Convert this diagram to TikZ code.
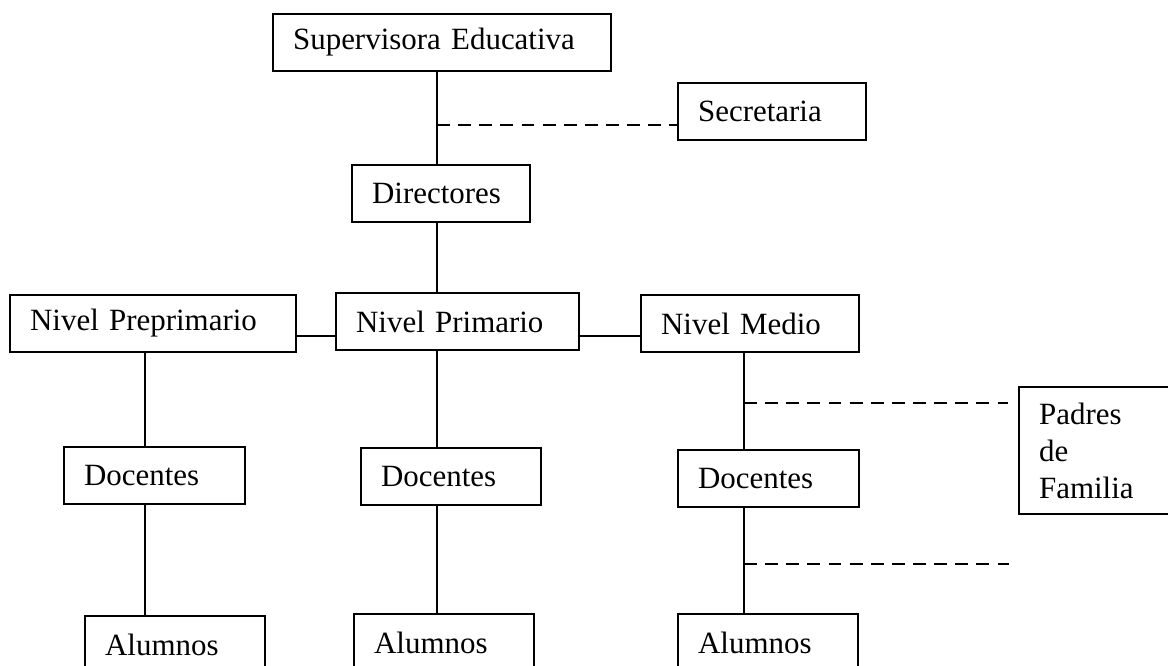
\documentclass[tikz,border=0pt]{standalone}
\usepackage{fontspec}
\setmainfont{Liberation Serif}
\begin{document}
\begin{tikzpicture}[x=0.388pt,y=-0.388pt,font=\fontsize{12}{14.4}\selectfont,line width=0.8pt,
  caja/.style={draw,anchor=north west,align=left,inner xsep=7.8pt,inner ysep=0pt,minimum height=22.1pt,text width=#1},
  punteada/.style={line width=0.9pt,dash pattern=on 5pt off 3.2pt}]
\useasboundingbox (0,0) rectangle (1168,666);
\node[caja=115.5pt](sup) at (272,13){Supervisora Educativa};
\node[caja=57.3pt](sec) at (677,82){Secretaria};
\node[caja=53.5pt](dir) at (351,164){Directores};
\node[caja=95.4pt](pre) at (9,294){Nivel Preprimario};
\node[caja=78.7pt](pri) at (335,292){Nivel Primario};
\node[caja=69pt](med) at (640,294){Nivel Medio};
\node[caja=46.5pt,minimum height=49.3pt](pad) at (1018,386){Padres\\de\\Familia};
\node[caja=54.6pt](doc1) at (63,446){Docentes};
\node[caja=54.2pt](doc2) at (360,447){Docentes};
\node[caja=54.6pt](doc3) at (677,449){Docentes};
\node[caja=54.2pt](alu1) at (84,615){Alumnos};
\node[caja=54.2pt](alu2) at (353,613){Alumnos};
\node[caja=54.2pt](alu3) at (677,613){Alumnos};
% ejes de las ramas
\coordinate(c1) at (145,336);
\coordinate(c2) at (437,125);
\coordinate(c3) at (744,403);
\coordinate(c4) at (744,564);
\coordinate(c5) at (1009,564);
\draw(sup.south -| c2)--(dir.north -| c2) (dir.south -| c2)--(pri.north -| c2);
\draw(pre.east |- c1)--(pri.west |- c1) (pri.east |- c1)--(med.west |- c1);
\draw(pre.south -| c1)--(doc1.north -| c1) (doc1.south -| c1)--(alu1.north -| c1);
\draw(pri.south -| c2)--(doc2.north -| c2) (doc2.south -| c2)--(alu2.north -| c2);
\draw(med.south -| c3)--(doc3.north -| c3) (doc3.south -| c3)--(alu3.north -| c3);
\draw[punteada](c2)--(c2 -| sec.west);
\draw[punteada](c3)--([xshift=-3.9pt]c3 -| pad.west);
\draw[punteada](c4)--(c5);
\end{tikzpicture}
\end{document}
